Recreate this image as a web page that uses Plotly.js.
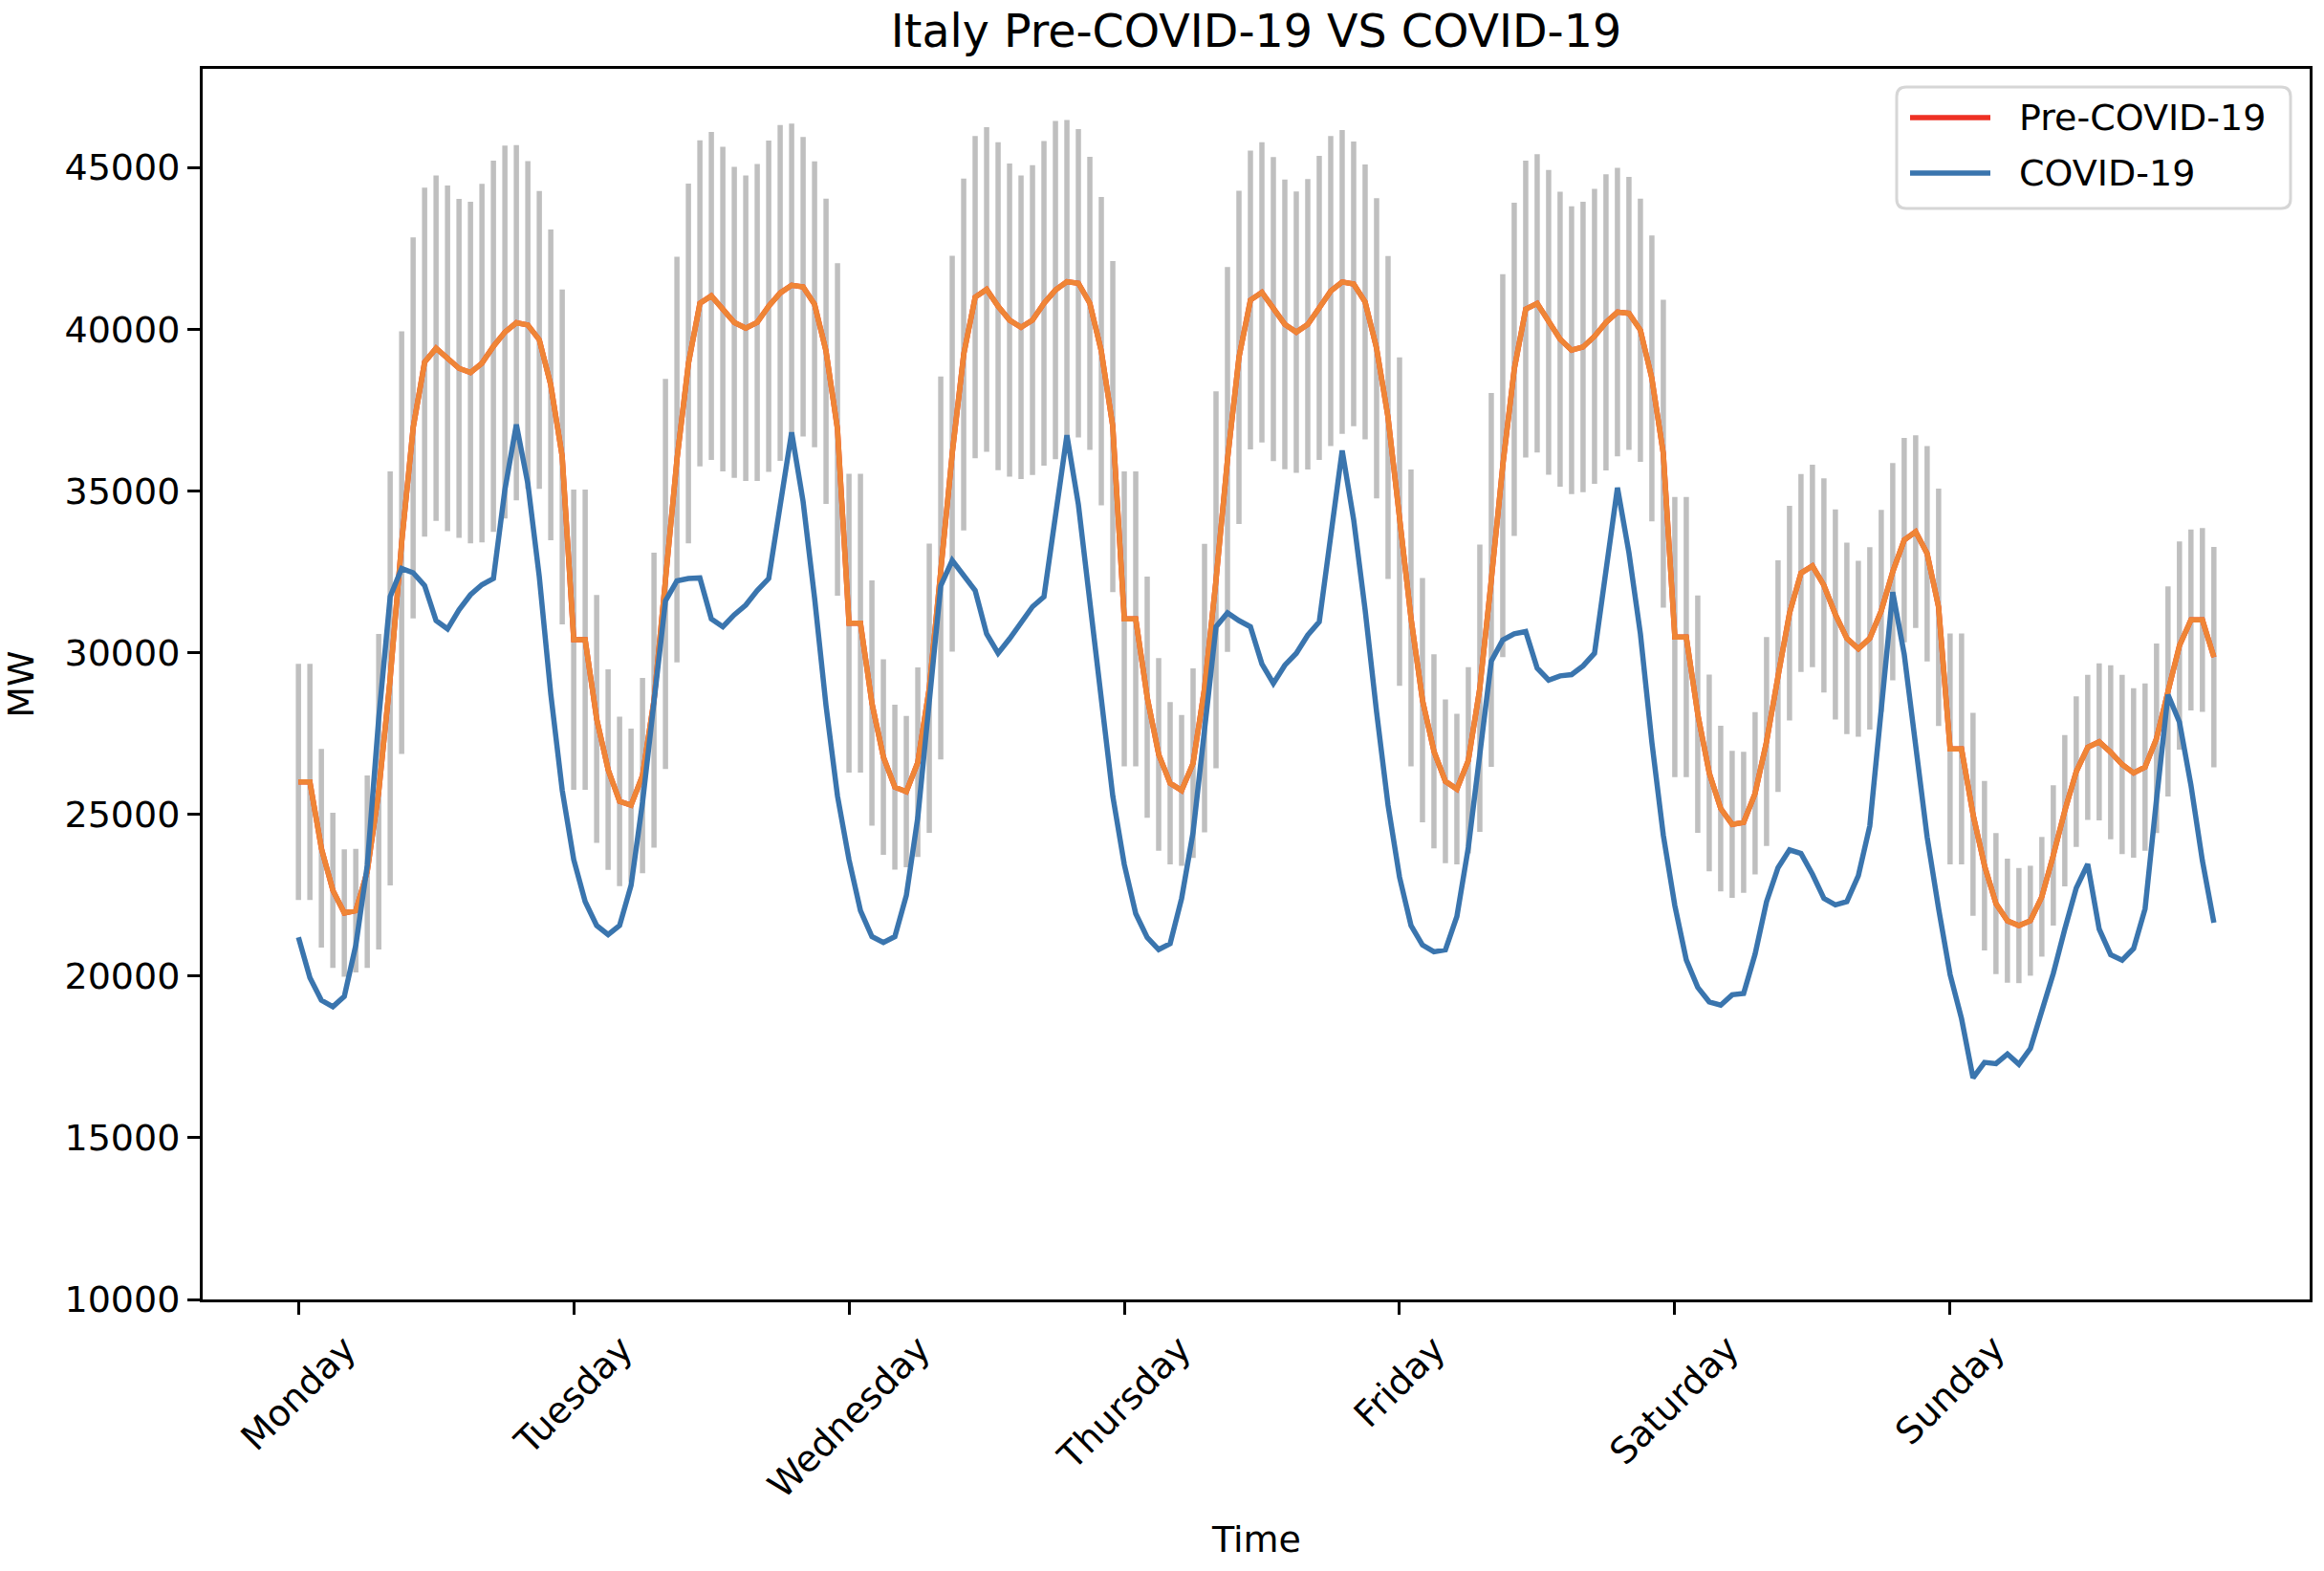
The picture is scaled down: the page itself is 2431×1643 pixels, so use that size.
<!DOCTYPE html>
<html>
<head>
<meta charset="utf-8">
<script src="https://cdn.plot.ly/plotly-3.0.1.min.js"></script>
<style>
  html, body { margin: 0; padding: 0; background: #fff; }
  #chart { width: 2431px; height: 1643px; }
</style>
</head>
<body>
<div id="chart"></div>
<script>
"use strict";
// hourly load for an average week, Monday 00:00 .. Sunday 23:00

var dayLabels = ['Monday', 'Tuesday', 'Wednesday', 'Thursday', 'Friday', 'Saturday', 'Sunday'];
var dayTicks = [0, 24, 48, 72, 96, 120, 144];

// Pre-COVID-19 mean (MW)
var preCovid = [
  26000, 26000, 23950, 22650, 21950, 22020, 23230, 25700, 29200, 33400, 36950, 38980, 39410, 39100, 38790, 38660, 38950, 39470, 39910, 40200, 40130, 39670, 38280, 36050,
  30400, 30400, 27950, 26380, 25400, 25280, 26200, 28530, 32430, 35970, 38940, 40800, 41030, 40620, 40210, 40030, 40210, 40710, 41120, 41360, 41310, 40770, 39320, 36900,
  30910, 30910, 28440, 26770, 25840, 25700, 26610, 28900, 32620, 36150, 39220, 40990, 41230, 40710, 40280, 40060, 40280, 40800, 41210, 41470, 41420, 40800, 39320, 36990,
  31040, 31040, 28620, 26850, 25960, 25740, 26580, 28900, 32250, 35970, 39130, 40900, 41140, 40620, 40150, 39910, 40150, 40660, 41180, 41460, 41400, 40840, 39410, 37270,
  34050, 31070, 28530, 26950, 26020, 25780, 26670, 28900, 32250, 35780, 38760, 40620, 40800, 40210, 39690, 39350, 39450, 39780, 40210, 40530, 40490, 39970, 38480, 36150,
  30480, 30480, 28100, 26280, 25180, 24690, 24750, 25650, 27250, 29270, 31220, 32460, 32680, 32080, 31180, 30440, 30120, 30440, 31290, 32500, 33480, 33740, 33060, 31400,
  27020, 27020, 25000, 23410, 22240, 21710, 21560, 21710, 22450, 23730, 25110, 26320, 27070, 27240, 26920, 26540, 26280, 26460, 27350, 28800, 30220, 31010, 31010, 29860
];

// Pre-COVID-19 spread (half length of the grey bars, MW)
var preCovidStd = [
  3650, 3650, 3070, 2400, 1970, 1910, 2975, 4880, 6400, 6535, 5890, 5395, 5340, 5345, 5240, 5280, 5545, 5740, 5765, 5490, 5070, 4605, 4805, 5175,
  4640, 4640, 3830, 3100, 2620, 2370, 3020, 4560, 6030, 6270, 5560, 5040, 5070, 5020, 4810, 4720, 4900, 5120, 5190, 5000, 4630, 4420, 4720, 5140,
  4620, 4620, 3790, 3020, 2550, 2340, 2930, 4470, 5920, 6120, 5440, 4980, 5020, 5070, 4840, 4690, 4790, 5020, 5230, 5000, 4770, 4530, 4770, 5120,
  4560, 4560, 3730, 2980, 2510, 2330, 2930, 4460, 5830, 5950, 5150, 4620, 4640, 4700, 4480, 4350, 4490, 4700, 4790, 4700, 4400, 4250, 4640, 4990,
  5080, 4590, 3780, 3000, 2530, 2330, 2880, 4440, 5780, 5920, 5150, 4590, 4610, 4710, 4560, 4450, 4490, 4560, 4580, 4460, 4220, 4070, 4420, 4760,
  4330, 4330, 3670, 3040, 2560, 2270, 2180, 2510, 3230, 3580, 3320, 3060, 3130, 3310, 3250, 2960, 2720, 2820, 3120, 3360, 3160, 2980, 3330, 3670,
  3570, 3570, 3140, 2620, 2180, 1920, 1780, 1700, 1850, 2170, 2340, 2330, 2240, 2430, 2690, 2770, 2620, 2590, 2930, 3250, 3220, 2800, 2840, 3410
];

// COVID-19 load (MW)
var covid = [
  21200, 19950, 19250, 19050, 19370, 20950, 23420, 27970, 31730, 32600, 32470, 32070, 30990, 30730, 31320, 31790, 32100, 32290, 35040, 37050, 35230, 32340, 28720, 25740,
  23600, 22300, 21560, 21280, 21560, 22800, 25370, 28530, 31600, 32220, 32290, 32310, 31040, 30800, 31170, 31470, 31920, 32290, 34580, 36810, 34670, 31690, 28350, 25560,
  23600, 22020, 21220, 21040, 21220, 22490, 24900, 28350, 32070, 32850, 32350, 31920, 30580, 29980, 30430, 30910, 31420, 31730, 34110, 36720, 34580, 31510, 28350, 25560,
  23450, 21930, 21190, 20820, 21000, 22400, 24440, 27600, 30800, 31230, 30990, 30800, 29650, 29050, 29610, 29980, 30540, 30950, 33550, 36250, 34110, 31320, 28160, 25280,
  23060, 21560, 20960, 20750, 20810, 21840, 23980, 26860, 29740, 30390, 30580, 30650, 29520, 29150, 29280, 29320, 29590, 29980, 32430, 35100, 33090, 30580, 27230, 24350,
  22180, 20500, 19650, 19200, 19100, 19420, 19460, 20680, 22300, 23350, 23900, 23790, 23150, 22400, 22200, 22300, 23100, 24640, 28250, 31870, 29950, 27080, 24300, 22080,
  20050, 18680, 16850, 17330, 17290, 17590, 17270, 17760, 18920, 20080, 21450, 22720, 23460, 21450, 20660, 20490, 20850, 22080, 25470, 28700, 27850, 25900, 23560, 21650
];

var hours = preCovid.map(function(v, i){ return i; });

var FONT = 'DejaVu Sans, Verdana, sans-serif';
var RED = '#ee3124', ORANGE = '#ef8536', BLUE = '#3a75ae';

// plot area in pixels (matches margins below)
var PL = 212, PR = 2416, PT = 72, PB = 1359;
function px(X){ return (X - PL) / (PR - PL); }  //pixel -> paper x
function py(Y){ return (PB - Y) / (PB - PT); }  //pixel -> paper y

var traces = [
  { // grey spread bars
    x: hours, y: preCovid,
    type: 'scatter', mode: 'markers',
    marker: {size: 1, color: 'rgba(0,0,0,0)'},
    error_y: {type: 'data', array: preCovidStd, visible: true, color: '#bfbfbf', thickness: 5.5, width: 0},
    showlegend: false, hoverinfo: 'skip'
  },
  {
    x: hours, y: preCovid,
    type: 'scatter', mode: 'lines', name: 'Pre-COVID-19',
    line: {color: RED, width: 5.5}, showlegend: false
  },
  {
    x: hours, y: preCovid,
    type: 'scatter', mode: 'lines', name: 'Pre-COVID-19 mean',
    line: {color: ORANGE, width: 5.5}, showlegend: false
  },
  {
    x: hours, y: covid,
    type: 'scatter', mode: 'lines', name: 'COVID-19',
    line: {color: BLUE, width: 5.5}, showlegend: false
  }
];

var axisCommon = {
  showgrid: false, zeroline: false,
  showline: true, mirror: true, linecolor: '#000', linewidth: 3,
  ticks: 'outside', ticklen: 13, tickwidth: 3, tickcolor: '#000',
  tickfont: {family: FONT, size: 38, color: '#000'}
};

//day labels : rotated, centred under their tick
var annotations = dayLabels.map(function(lab, i){
  return {
    text: lab, x: dayTicks[i], xref: 'x', y: py(1387), yref: 'paper',
    xanchor: 'center', yanchor: 'top', textangle: -45, showarrow: false,
    borderpad: 0, font: {family: FONT, size: 38, color: '#000'}
  };
});
annotations.push({
  text: 'Time', x: 0.5, xref: 'paper', y: py(1610), yref: 'paper',
  xanchor: 'center', yanchor: 'middle', showarrow: false,
  font: {family: FONT, size: 38, color: '#000'}
});

//legend box
var legL = px(1984), legR = px(2396), legT = py(91), legB = py(218);
var rx = 10 / (PR - PL), ry = 10 / (PB - PT);
var legendPath = 'M' + (legL + rx) + ',' + legT + ' L' + (legR - rx) + ',' + legT +
  ' Q' + legR + ',' + legT + ' ' + legR + ',' + (legT - ry) +
  ' L' + legR + ',' + (legB + ry) + ' Q' + legR + ',' + legB + ' ' + (legR - rx) + ',' + legB +
  ' L' + (legL + rx) + ',' + legB + ' Q' + legL + ',' + legB + ' ' + legL + ',' + (legB + ry) +
  ' L' + legL + ',' + (legT - ry) + ' Q' + legL + ',' + legT + ' ' + (legL + rx) + ',' + legT + ' Z';

var legendItems = [
  {label: 'Pre-COVID-19', color: RED, y: 123},
  {label: 'COVID-19', color: BLUE, y: 181}
];

var shapes = [{
  type: 'path', path: legendPath, xref: 'paper', yref: 'paper', layer: 'above',
  fillcolor: 'rgba(255,255,255,0.8)', line: {color: '#d6d6d6', width: 3}
}];
legendItems.forEach(function(item){
  shapes.push({
    type: 'line', xref: 'paper', yref: 'paper', layer: 'above',
    x0: px(1998), x1: px(2082), y0: py(item.y), y1: py(item.y),
    line: {color: item.color, width: 5.5}
  });
  annotations.push({
    text: item.label, x: px(2110), xref: 'paper', y: py(item.y), yref: 'paper',
    xanchor: 'left', yanchor: 'middle', showarrow: false,
    font: {family: FONT, size: 38, color: '#000'}
  });
});

var layout = {
  width: 2431, height: 1643,
  paper_bgcolor: '#fff', plot_bgcolor: '#fff',
  margin: {l: PL, r: 2431 - PR, t: PT, b: 1643 - PB, pad: 0},
  font: {family: FONT, color: '#000'},
  title: {
    text: 'Italy Pre-COVID-19 VS COVID-19',
    font: {family: FONT, size: 47.5, color: '#000'},
    xref: 'paper', x: 0.5, xanchor: 'center',
    yref: 'container', y: 1 - 32 / 1643, yanchor: 'middle'
  },
  xaxis: Object.assign({}, axisCommon, {
    range: [-8.35, 175.35],
    tickmode: 'array', tickvals: dayTicks, ticktext: dayLabels,
    showticklabels: false
  }),
  yaxis: Object.assign({}, axisCommon, {
    range: [10000, 48050],
    tickmode: 'array', tickvals: [10000, 15000, 20000, 25000, 30000, 35000, 40000, 45000],
    ticktext: ['10000', '15000', '20000', '25000', '30000', '35000', '40000', '45000'],
    title: {text: 'MW', font: {family: FONT, size: 38, color: '#000'}, standoff: 22}
  }),
  annotations: annotations,
  shapes: shapes,
  showlegend: false
};

Plotly.newPlot('chart', traces, layout, {staticPlot: true, displayModeBar: false});
</script>
</body>
</html>
